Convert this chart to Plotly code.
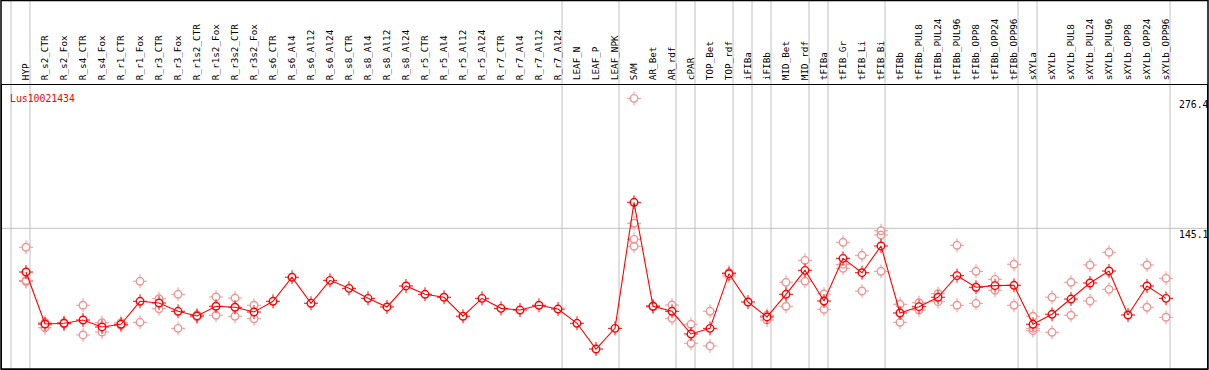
import plotly.graph_objects as go

gene = "Lus10021434"

categories = [
    "HYP", "R_s2_CTR", "R_s2_Fox", "R_s4_CTR", "R_s4_Fox", "R_r1_CTR", "R_r1_Fox",
    "R_r3_CTR", "R_r3_Fox", "R_r1s2_CTR", "R_r1s2_Fox", "R_r3s2_CTR", "R_r3s2_Fox",
    "R_s6_CTR", "R_s6_Al4", "R_s6_Al12", "R_s6_Al24", "R_s8_CTR", "R_s8_Al4",
    "R_s8_Al12", "R_s8_Al24", "R_r5_CTR", "R_r5_Al4", "R_r5_Al12", "R_r5_Al24",
    "R_r7_CTR", "R_r7_Al4", "R_r7_Al12", "R_r7_Al24", "LEAF_N", "LEAF_P", "LEAF_NPK",
    "SAM", "AR_Bet", "AR_rdf", "cPAR", "TOP_Bet", "TOP_rdf", "iFIBa", "iFIBb",
    "MID_Bet", "MID_rdf", "tFIBa", "tFIB_Gr", "tFIB_Li", "tFIB_Bi", "tFIBb",
    "tFIBb_PUL8", "tFIBb_PUL24", "tFIBb_PUL96", "tFIBb_OPP8", "tFIBb_OPP24",
    "tFIBb_OPP96", "sXYLa", "sXYLb", "sXYLb_PUL8", "sXYLb_PUL24", "sXYLb_PUL96",
    "sXYLb_OPP8", "sXYLb_OPP24", "sXYLb_OPP96",
]

means = [
    101.0, 48.5, 49.2, 52.5, 45.5, 48.2, 71.4, 69.7, 61.3, 56.6, 66.4, 65.4, 60.6,
    71.4, 95.7, 69.4, 92.6, 84.5, 74.4, 65.7, 86.9, 78.5, 75.5, 56.3, 74.4,
    64.3, 62.6, 67.4, 63.6, 49.2, 23.2, 44.1,
    171.4, 66.4, 61.3, 38.4, 44.1, 99.3, 70.7, 55.6, 78.5, 102.7, 71.7, 114.8,
    100.3, 127.3, 59.6, 66.0, 75.5, 97.3, 85.6, 87.2, 87.6, 48.2, 58.3, 73.7,
    89.9, 102.0, 57.6, 86.9, 74.4,
]

replicates = [
    [126.0, 92.4, 91.4], [50.2, 44.7, 48.5], [49.2, 48.5, 50.0], [67.4, 37.4],
    [49.8, 40.4], [49.8, 47.0], [91.6, 50.2], [74.0, 63.9], [78.5, 44.1],
    [57.9, 55.6], [75.8, 57.3], [74.7, 56.3], [67.4, 53.8],
    [], [], [], [], [], [], [], [], [], [], [], [], [], [], [], [], [], [], [],
    [276.4, 150.2, 134.0, 127.0], [67.0, 65.8], [67.7, 54.2], [48.2, 29.0],
    [61.3, 26.3], [97.0, 100.5], [], [57.3, 52.5], [90.6, 66.4], [112.8, 91.6],
    [78.8, 63.3], [131.0, 104.7, 108.7], [117.9, 81.8], [142.7, 138.4, 101.7],
    [68.4, 50.2], [70.0, 62.6], [79.1, 71.0], [128.0, 67.4], [101.7, 69.4],
    [93.6, 82.5], [108.8, 67.4], [56.3, 44.1, 41.7], [75.5, 40.1], [90.6, 57.3],
    [108.1, 71.7], [120.9, 83.5], [], [108.1, 65.4], [94.6, 55.3],
]

# index of the last category in each group (separators drawn after them)
group_ends = [-1, 0, 28, 31, 34, 35, 37, 38, 39, 41, 42, 45, 52, 53, 60]

y_tick_values = [276.4, 145.1, 0]
y_tick_labels = ["276.4", "145.1", "0"]
grid_value = 145.1

# ---- layout geometry ----
W, H = 1209, 370
ML, MR, MT, MB = 2, 2, 85, 1
PW, PH = W - ML - MR, H - MT - MB
STEP = 19.0          # px per category
X0PX = 26 - ML       # px of first category inside plot area
PXPU = 0.990         # px per unit of y
Y0PX = 3.0           # px below plot bottom where value 0 lies

x_range = [-X0PX / STEP, (PW - X0PX) / STEP]
y_range = [Y0PX / PXPU, (PH + Y0PX) / PXPU]
sep_off = 4.0 / STEP

RED = "#ff0000"
PINK = "#ec9696"
MONO = "DejaVu Sans Mono"

xs = list(range(len(categories)))
rx, ry = [], []
for i, reps in enumerate(replicates):
    for v in reps:
        rx.append(i)
        ry.append(v)

fig = go.Figure()


def add_markers(x, y, color, mode_line=False):
    fig.add_trace(go.Scatter(
        x=x, y=y, mode="markers", hoverinfo="skip", showlegend=False,
        marker=dict(symbol="cross-thin-open", size=10, color=color,
                    line=dict(color=color, width=1)),
    ))
    fig.add_trace(go.Scatter(
        x=x, y=y, mode="markers", hoverinfo="skip", showlegend=False,
        marker=dict(symbol="circle", size=7.5, color="white",
                    line=dict(width=0)),
    ))
    fig.add_trace(go.Scatter(
        x=x, y=y, mode="lines+markers" if mode_line else "markers",
        showlegend=False,
        line=dict(color=color, width=1.1),
        marker=dict(symbol="circle-open", size=7.5, color=color,
                    line=dict(color=color, width=1.4)),
    ))


add_markers(rx, ry, PINK)
add_markers(xs, means, RED, mode_line=True)

shapes = []
top_paper = 1 + MT / PH
for k in group_ends:
    shapes.append(dict(type="line", xref="x", yref="paper",
                       x0=k + sep_off, x1=k + sep_off, y0=0, y1=top_paper,
                       line=dict(color="#c0c0c0", width=1), layer="below"))
shapes.append(dict(type="line", xref="paper", yref="y", x0=0, x1=1,
                   y0=grid_value, y1=grid_value,
                   line=dict(color="#c0c0c0", width=1), layer="below"))
# outer frame
shapes.append(dict(type="rect", xref="paper", yref="paper",
                   x0=-1.0 / PW, x1=1 + 1.0 / PW, y0=0, y1=1 + (MT - 0.5) / PH,
                   line=dict(color="black", width=1.5), fillcolor="rgba(0,0,0,0)"))

annotations = [dict(text=gene, xref="paper", yref="paper", x=0, y=1,
                    xanchor="left", yanchor="top", xshift=6, yshift=-6,
                    showarrow=False, font=dict(family=MONO, size=9.8, color=RED))]
for v, t in zip(y_tick_values, y_tick_labels):
    annotations.append(dict(
        text=t, xref="paper", yref="y", x=1, y=v, xanchor="left",
        yanchor="bottom" if v == 0 else "top", xshift=-30,
        yshift=6 if v == 0 else 1, showarrow=False,
        font=dict(family=MONO, size=9.8, color="black")))

fig.update_layout(
    width=W, height=H,
    margin=dict(l=ML, r=MR, t=MT, b=MB, pad=0),
    paper_bgcolor="white", plot_bgcolor="white",
    showlegend=False,
    shapes=shapes, annotations=annotations,
    xaxis=dict(range=x_range, side="top", tickmode="array", tickvals=xs,
               ticktext=categories, tickangle=-90, ticks="",
               tickfont=dict(family=MONO, size=9.3, color="black"),
               ticklabelstandoff=2,
               showgrid=False, zeroline=False, showline=True, mirror=True,
               linecolor="black", linewidth=1),
    yaxis=dict(range=y_range, showticklabels=False, ticks="", showgrid=False,
               zeroline=False, showline=True, mirror=True, linecolor="black",
               linewidth=1),
)

fig.write_html("out.html", config={"displayModeBar": False},
               post_script="document.body.style.margin='0';document.body.style.overflow='hidden';")
